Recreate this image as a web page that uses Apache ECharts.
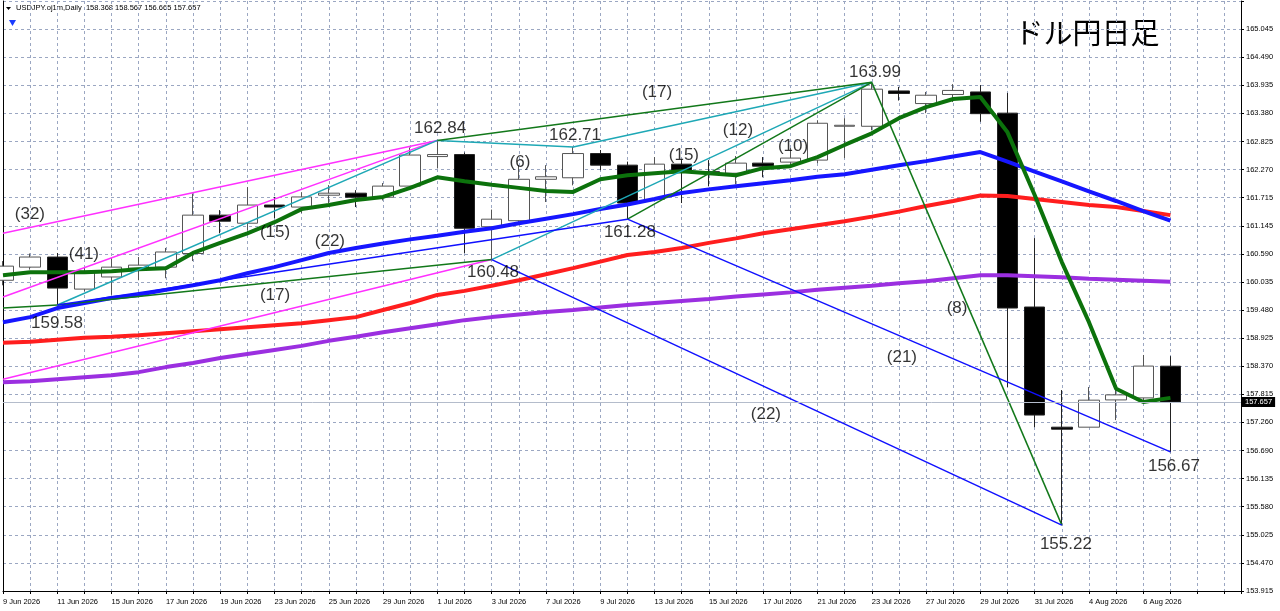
<!DOCTYPE html>
<html>
<head>
<meta charset="utf-8">
<title>USDJPY Daily</title>
<script src="https://cdn.jsdelivr.net/npm/echarts@6.0.0/dist/echarts.min.js"></script>
<style>
  html, body { margin: 0; padding: 0; background: #fff; }
  #main { width: 1280px; height: 611px; }
</style>
</head>
<body>
<div id="main"></div>
<script>
// 日足の日付（営業日のみ）
const dates = [
  '9 Jun 2026', '10 Jun 2026', '11 Jun 2026', '12 Jun 2026', '15 Jun 2026', '16 Jun 2026',
  '17 Jun 2026', '18 Jun 2026', '19 Jun 2026', '22 Jun 2026', '23 Jun 2026', '24 Jun 2026',
  '25 Jun 2026', '26 Jun 2026', '29 Jun 2026', '30 Jun 2026', '1 Jul 2026', '2 Jul 2026',
  '3 Jul 2026', '6 Jul 2026', '7 Jul 2026', '8 Jul 2026', '9 Jul 2026', '10 Jul 2026',
  '13 Jul 2026', '14 Jul 2026', '15 Jul 2026', '16 Jul 2026', '17 Jul 2026', '20 Jul 2026',
  '21 Jul 2026', '22 Jul 2026', '23 Jul 2026', '24 Jul 2026', '27 Jul 2026', '28 Jul 2026',
  '29 Jul 2026', '30 Jul 2026', '31 Jul 2026', '3 Aug 2026', '4 Aug 2026', '5 Aug 2026',
  '6 Aug 2026', '7 Aug 2026'
]
// 四本値
const opens = [
  160.07, 160.33, 160.53, 159.895, 160.135, 160.31, 160.33, 160.60, 161.36, 161.20, 161.56,
  161.52, 161.755, 161.795, 161.715, 161.935, 162.52, 162.56, 161.13, 161.25, 162.07, 162.10,
  162.58, 162.35, 161.67, 162.37, 162.22, 162.19, 162.39, 162.41, 162.45, 163.12, 163.12,
  163.82, 163.57, 163.75, 163.80, 163.38, 159.54, 157.16, 157.16, 157.70, 157.74, 158.368
]
const closes = [
  160.35, 160.53, 159.915, 160.25, 160.33, 160.37, 160.63, 161.36, 161.24, 161.56, 161.52,
  161.72, 161.795, 161.715, 161.935, 162.55, 162.56, 161.10, 161.28, 162.07, 162.12, 162.58,
  162.35, 161.60, 162.37, 162.25, 162.20, 162.39, 162.33, 162.49, 163.18, 163.14, 163.855,
  163.77, 163.735, 163.83, 163.37, 159.52, 157.40, 157.12, 157.695, 157.80, 158.37, 157.657
]
const highs = [
  160.45, 160.60, 160.61, 160.33, 160.51, 160.53, 160.71, 161.79, 161.46, 161.915, 161.72,
  161.815, 161.955, 161.855, 161.995, 162.70, 162.84, 162.60, 161.47, 162.35, 162.35, 162.71,
  162.65, 162.42, 162.51, 162.45, 162.45, 162.53, 162.51, 162.69, 163.24, 163.28, 163.99,
  163.90, 163.80, 163.955, 163.935, 163.78, 160.905, 157.895, 157.955, 157.955, 158.59, 158.567
]
const lows = [
  159.97, 160.28, 159.58, 159.85, 159.78, 160.07, 160.11, 160.45, 161.00, 161.06, 161.30,
  161.40, 161.60, 161.52, 161.65, 161.90, 162.285, 160.61, 160.48, 161.22, 161.62, 161.95,
  162.25, 161.28, 161.66, 161.60, 161.93, 161.97, 162.11, 162.31, 162.39, 162.49, 163.04,
  163.63, 163.38, 163.60, 163.21, 157.955, 157.16, 155.22, 157.16, 157.30, 157.66, 156.665
]

// 移動平均線
const maGreen = [
  160.17, 160.23, 160.23, 160.23, 160.25, 160.29, 160.31, 160.61, 160.81, 161.00, 161.22,
  161.48, 161.56, 161.66, 161.72, 161.90, 162.11, 162.03, 161.96, 161.90, 161.84, 161.82,
  162.07, 162.15, 162.19, 162.23, 162.19, 162.15, 162.29, 162.33, 162.51, 162.75, 162.98,
  163.28, 163.50, 163.66, 163.70, 163.00, 161.76, 160.43, 159.24, 157.92, 157.66, 157.74
]
const maBlue = [
  159.24, 159.34, 159.52, 159.62, 159.72, 159.78, 159.88, 159.97, 160.07, 160.21, 160.33,
  160.47, 160.61, 160.71, 160.80, 160.88, 160.95, 161.03, 161.10, 161.20, 161.29, 161.38,
  161.48, 161.57, 161.68, 161.80, 161.87, 161.93, 161.99, 162.05, 162.12, 162.17, 162.26,
  162.35, 162.43, 162.52, 162.61, 162.42, 162.22, 162.03, 161.83, 161.64, 161.44, 161.25
]
const maRed = [
  158.83, 158.85, 158.89, 158.93, 158.95, 158.98, 159.02, 159.06, 159.10, 159.14, 159.18,
  159.22, 159.28, 159.34, 159.48, 159.62, 159.78, 159.86, 159.96, 160.07, 160.19, 160.31,
  160.44, 160.57, 160.63, 160.71, 160.81, 160.90, 161.00, 161.08, 161.16, 161.24, 161.33,
  161.43, 161.54, 161.64, 161.75, 161.74, 161.68, 161.62, 161.56, 161.52, 161.44, 161.36
]
const maPurple = [
  158.05, 158.07, 158.11, 158.15, 158.19, 158.25, 158.35, 158.43, 158.53, 158.61, 158.69,
  158.77, 158.87, 158.95, 159.04, 159.12, 159.20, 159.28, 159.34, 159.39, 159.44, 159.48,
  159.53, 159.58, 159.62, 159.66, 159.70, 159.75, 159.79, 159.83, 159.88, 159.92, 159.96,
  160.01, 160.05, 160.11, 160.17, 160.17, 160.15, 160.13, 160.10, 160.08, 160.06, 160.04
]

// トレンドライン [始点バー, 始点価格, 終点バー, 終点価格]
const magentaLines = [
  [0, 161.00, 16, 162.84],
  [0, 159.74, 16, 162.84],
  [0, 158.11, 18, 160.48]
]
const cyanLines = [
  [2, 159.58, 16, 162.84],
  [16, 162.84, 21, 162.71],
  [21, 162.71, 32, 163.99],
  [18, 160.48, 32, 163.99]
]
const greenLines = [
  [0, 159.52, 2, 159.58],
  [2, 159.58, 18, 160.48],
  [16, 162.84, 32, 163.99],
  [23, 161.28, 32, 163.99],
  [32, 163.99, 39, 155.22]
]
const blueLines = [
  [2, 159.58, 23, 161.28],
  [18, 160.48, 39, 155.22],
  [23, 161.28, 43, 156.67]
]

// 注記（バー位置, 価格, 文字）
const noteText = ['(32)', '(41)', '159.58', '(15)', '(22)', '(17)', '162.84', '(6)', '162.71',
  '(17)', '(15)', '(12)', '(10)', '163.99', '160.48', '161.28', '(8)', '(21)', '(22)', '155.22', '156.67']
const noteBar = [0.99, 2.98, 1.99, 10.02, 12.04, 10.02, 16.1, 19.04, 21.07,
  24.09, 25.08, 27.07, 29.1, 32.12, 18.05, 23.09, 35.14, 33.11, 28.1, 39.15, 43.13]
const notePrice = [161.38, 160.59, 159.22, 161.02, 160.85, 159.78, 163.08, 162.41, 162.94,
  163.80, 162.55, 163.04, 162.73, 164.19, 160.23, 161.02, 159.52, 158.55, 157.42, 154.83, 156.39]

// 価格軸
const yMin = 153.915
const yStep = 0.5565
const yTickLabels = ['153.915', '154.470', '155.025', '155.580', '156.135', '156.690', '157.260',
  '157.815', '158.370', '158.925', '159.480', '160.035', '160.590', '161.145', '161.715',
  '162.270', '162.825', '163.380', '163.935', '164.490', '165.045']

const last = dates.length - 1
const header = [opens[last], highs[last], lows[last], closes[last]].map((v) => v.toFixed(3)).join(' ')

const gridColor = '#9ba7c2'
const smallFont = { fontSize: 7.5, color: '#000', fontFamily: 'Liberation Sans' }

function toLines(list, color) {
  return {
    type: 'lines',
    coordinateSystem: 'cartesian2d',
    silent: true,
    z: 4,
    lineStyle: { color: color, width: 1.5, opacity: 1 },
    data: list.map((l) => ({ coords: [[l[0], l[1]], [l[2], l[3]]] }))
  }
}

function maSeries(values, color) {
  return {
    type: 'line',
    data: values.map((v, i) => [i, v]),
    symbol: 'none',
    silent: true,
    z: 3,
    lineStyle: { color: color, width: 4 }
  }
}

var myChart = echarts.init(document.getElementById('main'))
var option = {
  animation: false,
  backgroundColor: '#fff',
  grid: { left: 3, right: 39, top: 1, bottom: 20 },
  xAxis: {
    type: 'value',
    min: 0,
    max: 45.6,
    interval: 1,
    axisLine: { show: true, onZero: false, lineStyle: { color: '#000' } },
    axisTick: { show: true, length: 3, lineStyle: { color: '#000' } },
    axisLabel: Object.assign({
      align: 'left',
      margin: 7,
      formatter: (v) => {
        const i = Math.round(v)
        if (Math.abs(v - i) > 1e-6 || i % 2 !== 0 || !dates[i]) return ''
        return dates[i]
      }
    }, smallFont),
    splitLine: { show: true, lineStyle: { color: gridColor, type: [3, 3], width: 1 } }
  },
  yAxis: [
    {
      type: 'value',
      position: 'right',
      min: yMin,
      max: yMin + 21 * yStep,
      interval: yStep,
      axisLine: { show: true, onZero: false, lineStyle: { color: '#000' } },
      axisTick: { show: true, length: 3, lineStyle: { color: '#000' } },
      axisLabel: Object.assign({
        margin: 5,
        formatter: (v) => {
          const k = Math.round((v - yMin) / yStep)
          return yTickLabels[k] || ''
        }
      }, smallFont),
      splitLine: { show: true, lineStyle: { color: gridColor, type: [3, 3], width: 1 } }
    },
    {
      type: 'value',
      position: 'left',
      min: yMin,
      max: yMin + 21 * yStep,
      axisLine: { show: true, onZero: false, lineStyle: { color: '#000' } },
      axisTick: { show: false },
      axisLabel: { show: false },
      splitLine: { show: false }
    }
  ],
  series: [
    {
      type: 'candlestick',
      encode: { x: 0, y: [1, 2, 3, 4] },
      data: opens.map((o, i) => [i, o, closes[i], lows[i], highs[i]]),
      barWidth: 21,
      z: 2,
      itemStyle: {
        color: '#fff',
        color0: '#000',
        borderColor: '#555',
        borderColor0: '#222',
        borderColorDoji: '#555',
        borderWidth: 1
      },
      markLine: {
        silent: true,
        symbol: ['none', 'none'],
        lineStyle: { color: '#b4bccb', type: 'solid', width: 1 },
        label: Object.assign({
          show: true,
          position: 'end',
          distance: 1,
          formatter: closes[last].toFixed(3),
          backgroundColor: '#000',
          padding: [1, 3, 1, 3]
        }, smallFont, { color: '#fff' }),
        data: [{ yAxis: closes[last] }]
      }
    },
    maSeries(maPurple, '#9b2fe0'),
    maSeries(maRed, '#ff1e1e'),
    maSeries(maBlue, '#1616ff'),
    maSeries(maGreen, '#0c720c'),
    toLines(magentaLines, '#ff30ff'),
    toLines(cyanLines, '#1ea8b6'),
    toLines(greenLines, '#12781a'),
    toLines(blueLines, '#1010ff'),
    {
      type: 'scatter',
      silent: true,
      z: 5,
      symbolSize: 1,
      itemStyle: { color: 'rgba(0,0,0,0)' },
      label: {
        show: true,
        position: 'inside',
        formatter: '{b}',
        fontSize: 17,
        color: '#000',
        fontFamily: 'Liberation Sans'
      },
      data: noteText.map((t, i) => ({ name: t, value: [noteBar[i], notePrice[i]] }))
    }
  ],
  graphic: [
    { type: 'polygon', shape: { points: [[6, 7], [11, 7], [8.5, 10]] }, style: { fill: '#000' } },
    {
      type: 'text', x: 16, y: 8,
      style: { text: 'USDJPY.oj1m,Daily  ' + header, fontSize: 7.5, fill: '#000', fontFamily: 'Liberation Sans', verticalAlign: 'middle' }
    },
    { type: 'polygon', shape: { points: [[9, 20], [16, 20], [12.5, 26]] }, style: { fill: '#1a3cff' } },
    {
      type: 'text', x: 1087, y: 33,
      style: { text: 'ドル円日足', fontSize: 29, fill: '#000', fontFamily: 'Noto Sans CJK JP', align: 'center', verticalAlign: 'middle' }
    }
  ]
}
myChart.setOption(option)
</script>
</body>
</html>
